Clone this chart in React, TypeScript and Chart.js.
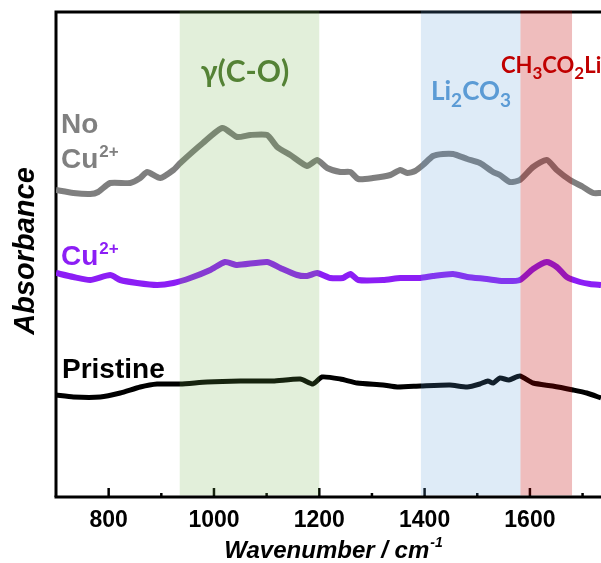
import React, { useEffect, useRef } from 'react';
import { Chart, registerables } from 'chart.js';

Chart.register(...registerables);

// ---- data (wavenumber in cm^-1, absorbance in a.u. with vertical offsets) ----
const noCuX = [700, 733, 765, 780, 803, 841, 860, 873, 898, 923, 936, 979, 1016, 1044, 1069, 1101, 1120, 1145, 1177, 1196, 1215, 1240, 1259, 1274, 1302, 1335, 1354, 1367, 1382, 1397, 1416, 1435, 1454, 1481, 1505, 1530, 1543, 1562, 1581, 1606, 1632, 1651, 1676, 1701, 1720, 1735];
const noCuY = [3.07, 3.04, 3.03, 3.05, 3.14, 3.14, 3.19, 3.25, 3.19, 3.27, 3.34, 3.54, 3.69, 3.6, 3.62, 3.62, 3.5, 3.42, 3.31, 3.37, 3.29, 3.25, 3.25, 3.18, 3.19, 3.22, 3.27, 3.24, 3.26, 3.32, 3.41, 3.43, 3.43, 3.38, 3.34, 3.25, 3.22, 3.15, 3.17, 3.3, 3.37, 3.27, 3.17, 3.1, 3.04, 3.04];

const cuX = [700, 733, 765, 803, 822, 854, 892, 923, 955, 993, 1021, 1044, 1101, 1126, 1158, 1177, 1196, 1221, 1245, 1259, 1274, 1321, 1354, 1392, 1416, 1454, 1481, 1518, 1549, 1581, 1606, 1632, 1651, 1670, 1695, 1714, 1735];
const cuY = [2.24, 2.2, 2.17, 2.22, 2.17, 2.14, 2.12, 2.14, 2.19, 2.27, 2.35, 2.32, 2.35, 2.29, 2.22, 2.21, 2.24, 2.19, 2.19, 2.23, 2.17, 2.17, 2.19, 2.19, 2.21, 2.23, 2.2, 2.18, 2.16, 2.17, 2.28, 2.35, 2.3, 2.2, 2.15, 2.13, 2.12];

const pristineX = [700, 733, 784, 822, 860, 892, 936, 987, 1050, 1112, 1164, 1188, 1205, 1240, 1272, 1321, 1348, 1392, 1448, 1481, 1505, 1520, 1530, 1543, 1560, 1581, 1606, 1643, 1682, 1708, 1735];
const pristineY = [1.02, 1.0, 1.0, 1.04, 1.1, 1.13, 1.13, 1.15, 1.16, 1.16, 1.18, 1.13, 1.2, 1.18, 1.14, 1.12, 1.1, 1.11, 1.12, 1.1, 1.13, 1.16, 1.14, 1.19, 1.17, 1.21, 1.14, 1.11, 1.07, 1.04, 0.99];

const majorTicks = [800, 1000, 1200, 1400, 1600];
const minorTicks = [900, 1100, 1300, 1500, 1700];

const bandStart = [935, 1393, 1582];
const bandEnd = [1200, 1582, 1680];
const bandColors = ['rgba(112,173,71,0.2)', 'rgba(91,155,213,0.2)', 'rgba(192,0,0,0.26)'];

const X_MIN = 700;
const X_MAX = 1735;

const SANS = '"Liberation Sans", Arial, sans-serif';
const LATO = 'Lato, "Noto Sans", sans-serif';

function toPoints(xs: number[], ys: number[]) {
  return xs.map((x, i) => ({ x, y: ys[i] }));
}

function drawSup(ctx: CanvasRenderingContext2D, x: number, y: number, base: string, sup: string, font: string, supFont: string, rise: number) {
  ctx.font = font;
  ctx.fillText(base, x, y);
  const w = ctx.measureText(base).width;
  ctx.font = supFont;
  ctx.fillText(sup, x + w + 1, y - rise);
}

function drawSub(ctx: CanvasRenderingContext2D, x: number, y: number, parts: [string, boolean][], font: string, subFont: string, drop: number) {
  let cx = x;
  for (const [t, sub] of parts) {
    ctx.font = sub ? subFont : font;
    ctx.fillText(t, cx, sub ? y + drop : y);
    cx += ctx.measureText(t).width;
  }
}

const decoPlugin = {
  id: 'deco',
  beforeDatasetsDraw(chart: any) {
    const { ctx, chartArea: a, scales } = chart;
    const x = scales.x;
    ctx.save();
    ctx.strokeStyle = '#000';
    ctx.lineWidth = 3;
    ctx.beginPath();
    ctx.moveTo(a.left, a.bottom);
    ctx.lineTo(a.left, a.top);
    ctx.lineTo(a.right + 5, a.top);
    ctx.stroke();
    ctx.lineWidth = 2.5;
    for (const v of majorTicks) {
      const px = x.getPixelForValue(v);
      ctx.beginPath();
      ctx.moveTo(px, a.bottom);
      ctx.lineTo(px, a.bottom - 9);
      ctx.stroke();
    }
    for (const v of minorTicks) {
      const px = x.getPixelForValue(v);
      ctx.beginPath();
      ctx.moveTo(px, a.bottom);
      ctx.lineTo(px, a.bottom - 4);
      ctx.stroke();
    }
    ctx.restore();
  },
  afterDatasetsDraw(chart: any) {
    const { ctx, chartArea: a, scales } = chart;
    const x = scales.x;
    ctx.save();
    // bands drawn on top of the curves
    for (let i = 0; i < bandStart.length; i++) {
      const x0 = x.getPixelForValue(bandStart[i]);
      const x1 = x.getPixelForValue(bandEnd[i]);
      ctx.fillStyle = bandColors[i];
      ctx.fillRect(x0, a.top - 1.5, x1 - x0, a.bottom - a.top);
    }
    // bottom axis
    ctx.strokeStyle = '#000';
    ctx.lineWidth = 3;
    ctx.beginPath();
    ctx.moveTo(a.left - 1.5, a.bottom);
    ctx.lineTo(a.right + 5, a.bottom);
    ctx.stroke();

    ctx.textBaseline = 'alphabetic';
    ctx.textAlign = 'left';
    // series labels
    ctx.fillStyle = '#808080';
    ctx.font = `bold 28px ${SANS}`;
    ctx.fillText('No', 61, 133);
    drawSup(ctx, 61, 168, 'Cu', '2+', `bold 28px ${SANS}`, `bold 17px ${SANS}`, 11);
    ctx.fillStyle = '#8C1EF5';
    drawSup(ctx, 61, 265, 'Cu', '2+', `bold 28px ${SANS}`, `bold 17px ${SANS}`, 11);
    ctx.fillStyle = '#000';
    ctx.font = `bold 28px ${SANS}`;
    ctx.fillText('Pristine', 62, 378);

    // band labels
    ctx.fillStyle = '#548235';
    ctx.font = `bold 30px ${LATO}`;
    ctx.textAlign = 'center';
    ctx.fillText('γ(C-O)', 245, 82);
    ctx.textAlign = 'left';
    ctx.fillStyle = '#5B9BD5';
    drawSub(ctx, 431, 100, [['Li', false], ['2', true], ['CO', false], ['3', true]], `bold 26px ${LATO}`, `bold 19px ${LATO}`, 7);
    ctx.fillStyle = '#C00000';
    drawSub(ctx, 501, 73, [['CH', false], ['3', true], ['CO', false], ['2', true], ['Li', false]], `bold 22px ${LATO}`, `bold 17px ${LATO}`, 6);

    // axis titles
    ctx.fillStyle = '#000';
    ctx.save();
    ctx.translate(34, 251);
    ctx.rotate(-Math.PI / 2);
    ctx.textAlign = 'center';
    ctx.font = `italic bold 29px ${SANS}`;
    ctx.fillText('Absorbance', 0, 0);
    ctx.restore();

    ctx.font = `italic bold 24px ${SANS}`;
    const t1 = 'Wavenumber / cm';
    const w1 = ctx.measureText(t1).width;
    ctx.font = `italic bold 14px ${SANS}`;
    const w2 = ctx.measureText('-1').width;
    const startX = 333 - (w1 + w2) / 2;
    ctx.font = `italic bold 24px ${SANS}`;
    ctx.fillText(t1, startX, 558);
    ctx.font = `italic bold 14px ${SANS}`;
    ctx.fillText('-1', startX + w1 + 1, 547);
    ctx.restore();
  },
};

export default function App() {
  const canvasRef = useRef<HTMLCanvasElement | null>(null);

  useEffect(() => {
    document.body.style.margin = '0';
    const canvas = canvasRef.current;
    if (!canvas) return;
    const chart = new Chart(canvas, {
      type: 'line',
      data: {
        datasets: [
          {
            label: 'No Cu2+',
            data: toPoints(noCuX, noCuY),
            borderColor: '#7F7F7F',
            borderWidth: 6,
            pointRadius: 0,
            tension: 0.2,
            fill: false,
          },
          {
            label: 'Cu2+',
            data: toPoints(cuX, cuY),
            borderColor: '#8C1EF5',
            borderWidth: 6,
            pointRadius: 0,
            tension: 0.2,
            fill: false,
          },
          {
            label: 'Pristine',
            data: toPoints(pristineX, pristineY),
            borderColor: '#000000',
            borderWidth: 5,
            pointRadius: 0,
            tension: 0.2,
            fill: false,
          },
        ],
      },
      options: {
        responsive: false,
        animation: false,
        layout: { padding: { left: 56, top: 12, right: 0, bottom: 0 } },
        plugins: { legend: { display: false }, tooltip: { enabled: false } },
        scales: {
          x: {
            type: 'linear',
            min: X_MIN,
            max: X_MAX,
            grid: { display: false, drawTicks: false },
            border: { display: false },
            ticks: {
              stepSize: 100,
              autoSkip: false,
              maxRotation: 0,
              padding: 10,
              color: '#000',
              font: { family: SANS, size: 23, weight: 'bold' },
              callback: (v: any) => (majorTicks.includes(Number(v)) ? String(v) : ''),
            },
            afterFit: (scale: any) => {
              scale.height = 66;
              scale.paddingLeft = 0;
              scale.paddingRight = 0;
            },
          },
          y: {
            display: false,
            min: 0,
            max: 4.85,
          },
        },
      },
      plugins: [decoPlugin],
    });
    return () => chart.destroy();
  }, []);

  return (
    <div style={{ width: 601, height: 563, overflow: 'hidden' }}>
      <canvas ref={canvasRef} width={601} height={563} style={{ display: 'block' }} />
    </div>
  );
}
